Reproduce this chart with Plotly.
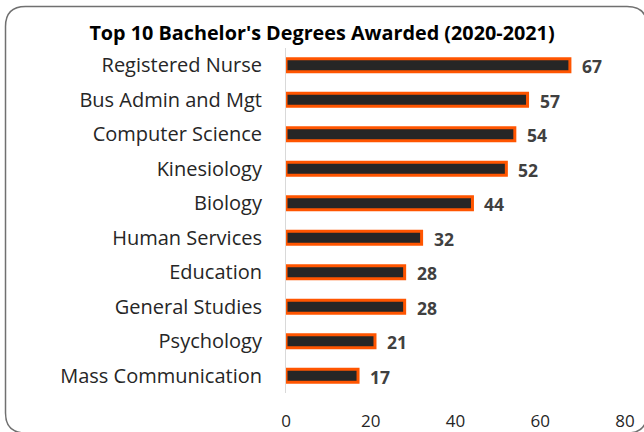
import plotly.graph_objects as go

categories = ["Registered Nurse", "Bus Admin and Mgt", "Computer Science", "Kinesiology",
              "Biology", "Human Services", "Education", "General Studies",
              "Psychology", "Mass Communication"]
values = [67, 57, 54, 52, 44, 32, 28, 28, 21, 17]
tick_vals = [0, 20, 40, 60, 80]

FONT = "Open Sans"

fig = go.Figure(go.Bar(
    y=categories, x=values, orientation="h",
    marker=dict(color="#262626", line=dict(color="#FF5500", width=3)),
    width=0.38, hoverinfo="skip",
))

for c, v in zip(categories, values):
    fig.add_annotation(x=v, y=c, text=f"<b>{v}</b>", showarrow=False,
                       xanchor="left", yanchor="middle", xshift=10, yshift=-1,
                       font=dict(family=FONT, size=17.5, color="#404040"))

# rounded frame (paper coords; plot area is 339 x 345 px)
L, R, T, B = -0.8274, 1.0649, 1.1203, -0.1159
rx, ry = 20/339, 20/345
path = (f"M {L+rx},{T} L {R-rx},{T} Q {R},{T} {R},{T-ry} L {R},{B+ry} Q {R},{B} {R-rx},{B} "
        f"L {L+rx},{B} Q {L},{B} {L},{B+ry} L {L},{T-ry} Q {L},{T} {L+rx},{T} Z")
fig.add_shape(type="path", path=path, xref="paper", yref="paper",
              line=dict(color="#707070", width=1.5), fillcolor="rgba(0,0,0,0)", layer="above")

fig.update_layout(
    width=644, height=432,
    margin=dict(l=286, r=19, t=48, b=39),
    paper_bgcolor="white", plot_bgcolor="white",
    showlegend=False,
    title=dict(text="<b>Top 10 Bachelor's Degrees Awarded (2020-2021)</b>",
               x=0.5, xanchor="center", xref="container", y=1 - 33/432, yref="container",
               yanchor="middle",
               font=dict(family=FONT, size=19.8, color="black")),
    font=dict(family=FONT, size=16, color="#262626"),
)
fig.update_xaxes(range=[0, 80], tickvals=tick_vals, showgrid=False, zeroline=False,
                 showline=False, ticks="", ticklabelstandoff=16, automargin=False,
                 tickfont=dict(family=FONT, size=17, color="#262626"))
fig.update_yaxes(autorange="reversed", showgrid=False, zeroline=False,
                 showline=True, linecolor="#D9D9D9", linewidth=1, ticks="",
                 ticklabelstandoff=19, automargin=False,
                 tickfont=dict(family=FONT, size=20, color="#262626"))

fig.write_html("out.html", config={"displayModeBar": False},
               post_script="document.body.style.margin='0px';")
